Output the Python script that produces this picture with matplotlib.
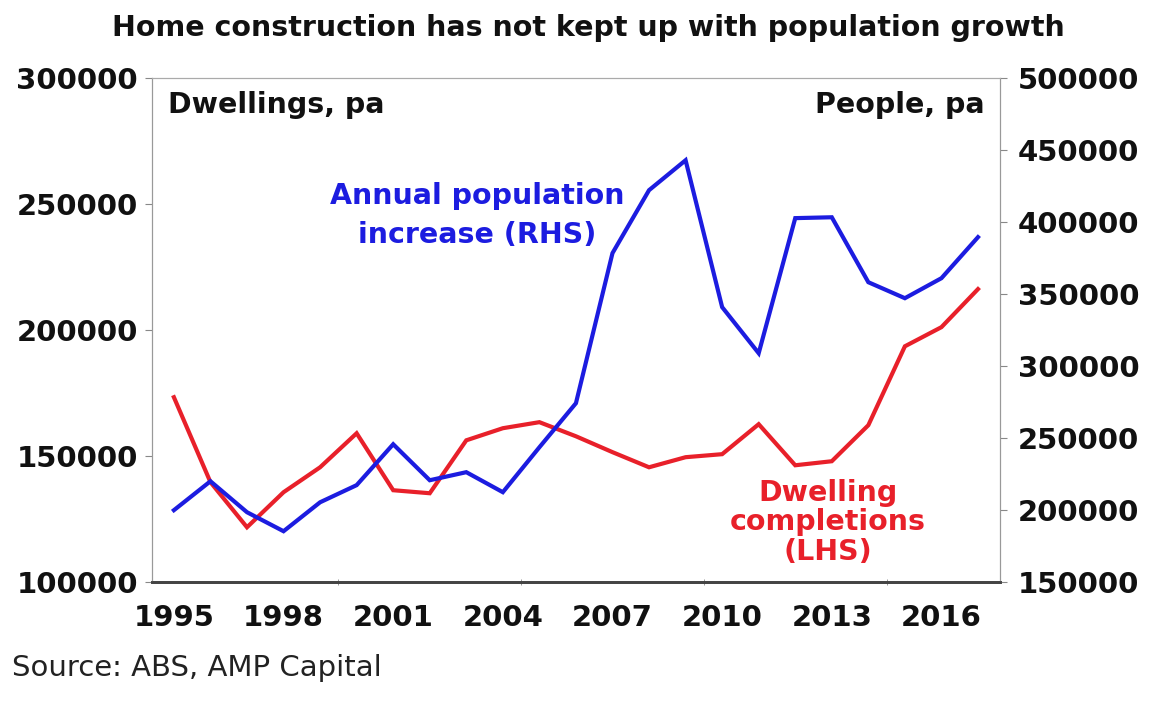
import matplotlib.pyplot as plt
from matplotlib.ticker import FixedLocator

plt.rcParams['font.family'] = ['DejaVu Sans']

years = list(range(1995, 2018))
dwellings = [173400, 139700, 121800, 135700, 145600, 159100, 136500, 135300,
             156300, 161100, 163500, 157900, 151600, 145600, 149600, 150800,
             162700, 146400, 148000, 162300, 193600, 201200, 216300]
population = [200000, 220100, 198600, 185400, 205500, 217400, 245800, 220800,
              226400, 212500, 243700, 274300, 378500, 422200, 443000, 341000,
              309000, 402800, 403400, 358300, 347200, 361100, 389600]
year_labels = [1995, 1998, 2001, 2004, 2007, 2010, 2013, 2016]

red = '#e8202a'
blue = '#1c1ce0'

fig = plt.figure(figsize=(11.6, 7.04), dpi=100)
ax = fig.add_axes([0.131, 0.173, 0.731, 0.716])
ax2 = ax.twinx()

ax.plot(years, dwellings, color=red, lw=3.0, solid_joinstyle='miter')
ax2.plot(years, population, color=blue, lw=3.0, solid_joinstyle='miter')

ax.set_xlim(1994.4, 2017.6)
ax.set_ylim(100000, 300000)
ax2.set_ylim(150000, 500000)
ax.set_yticks(range(100000, 300001, 50000))
ax2.set_yticks(range(150000, 500001, 50000))

ax.set_xticks(year_labels)
ax.xaxis.set_minor_locator(FixedLocator([1999.5, 2004.5, 2009.5, 2014.5]))
ax.tick_params(axis='x', which='major', length=0, pad=16)
ax.tick_params(axis='x', which='minor', length=5, direction='inout', color='#888888')

ax.tick_params(axis='y', length=5, color='#888888', labelsize=21, pad=5)
ax2.tick_params(axis='y', length=5, color='#888888', labelsize=21, pad=8)
for a in (ax, ax2):
    for lab in a.get_yticklabels():
        lab.set_fontweight('bold')
        lab.set_color('#111111')
for lab in ax.get_xticklabels():
    lab.set_fontweight('bold')
    lab.set_fontsize(21)
    lab.set_color('#111111')

for a in (ax, ax2):
    a.spines['left'].set_color('#999999')
    a.spines['right'].set_color('#999999')
    a.spines['top'].set_color('#aaaaaa')
    a.spines['bottom'].set_color('#444444')
    a.spines['bottom'].set_linewidth(2)

fig.text(0.507, 0.960, 'Home construction has not kept up with population growth',
         ha='center', va='center', fontsize=20.5, fontweight='bold', color='#111111')
ax.text(0.019, 0.946, 'Dwellings, pa', transform=ax.transAxes, ha='left', va='center',
        fontsize=20.5, fontweight='bold', color='#111111')
ax.text(0.982, 0.946, 'People, pa', transform=ax.transAxes, ha='right', va='center',
        fontsize=20.5, fontweight='bold', color='#111111')
ax.text(0.384, 0.728, 'Annual population\nincrease (RHS)', transform=ax.transAxes,
        ha='center', va='center', fontsize=20.5, fontweight='bold', color=blue,
        linespacing=1.48)
ax.text(0.797, 0.119, 'Dwelling\ncompletions\n(LHS)', transform=ax.transAxes,
        ha='center', va='center', fontsize=20.5, fontweight='bold', color=red,
        linespacing=1.06)
fig.text(0.01, 0.051, 'Source: ABS, AMP Capital', ha='left', va='center',
         fontsize=21, color='#222222')

fig.savefig('out.png', dpi=100)
